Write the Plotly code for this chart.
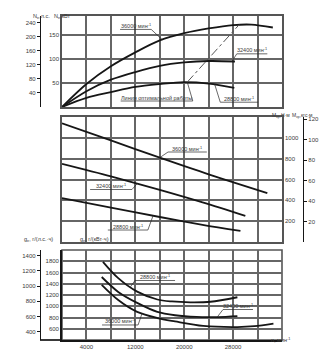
import numpy as np
import plotly.graph_objects as go

# Engine speed n, min^-1, and effective power Ne, kW, for three governor settings
n_ne_36000 = [0, 4000, 8000, 12000, 16000, 20000, 24000, 28000, 31000, 34500]
ne_36000 = [0, 48, 85, 114, 139, 154, 164, 171, 172, 166]
n_ne_32400 = [0, 4000, 8000, 12000, 16000, 20000, 24000, 28300]
ne_32400 = [0, 33, 57, 73, 86, 93, 96, 95]
n_ne_28800 = [0, 4000, 8000, 12000, 16000, 20000, 24000, 28200]
ne_28800 = [0, 19, 31, 42, 48, 52, 49, 40]
# line of optimum operation
n_opt = [20500, 29000]
ne_opt = [52, 172]

# Torque M, N·m
n_m_36000 = [0, 8000, 16000, 24000, 33600]
m_36000 = [1140, 975, 810, 650, 470]
n_m_32400 = [0, 8000, 16000, 23000, 30000]
m_32400 = [750, 630, 500, 380, 250]
n_m_28800 = [0, 8000, 16000, 23000, 29200]
m_28800 = [422, 330, 240, 165, 106]

# Specific fuel consumption ge, g/(kW·h)
n_ge_28800 = [6700, 9200, 12300, 15600, 18000, 21000, 24300, 28700]
ge_28800 = [1790, 1500, 1260, 1120, 1085, 1070, 1080, 1160]
n_ge_32400 = [6500, 9200, 12300, 15600, 18500, 22000, 25500, 28700]
ge_32400 = [1520, 1255, 1060, 900, 840, 810, 808, 825]
n_ge_36000 = [6500, 9200, 12300, 15600, 18500, 23100, 28700, 31500, 34600]
ge_36000 = [1380, 1110, 900, 790, 730, 650, 630, 645, 690]

# axis ticks
n_ticks = list(range(0, 36001, 4000))
n_labels = ["", "4000", "", "12000", "", "20000", "", "28000", "", ""]
ne_kw_ticks = [0, 50, 100, 150]
ne_hp_ticks = [40, 80, 120, 160, 200, 240]
m_nm_ticks = [0, 200, 400, 600, 800, 1000]
m_kgf_ticks = [20, 40, 60, 80, 100, 120]
ge_kw_ticks = [400, 600, 800, 1000, 1200, 1400, 1600, 1800]
ge_hp_ticks = [400, 600, 800, 1000, 1200, 1400]

HP_PER_KW = 1.36
NM_PER_KGFM = 9.81
N_MAX = 36000
NE_MAX = 190
M_MAX = 1200
GE_RANGE = [400, 2000]

W, H = 330, 352


def px(x):
    return x / W


def py(y):
    return 1 - y / H


FONT = "Liberation Sans, Arial, sans-serif"
TXT = "#3a3a3a"
GRID = "#666666"
FRAME = "#555555"
INK = "#161616"

x_dom = [px(62), px(282)]
dom1 = [py(107), py(16)]
dom2 = [py(242), py(117)]
dom3 = [py(340), py(250)]

fig = go.Figure()


def curve(xs, ys, xa, ya, dash="solid", width=1.8, color=INK):
    fig.add_trace(go.Scatter(
        x=xs, y=ys, xaxis=xa, yaxis=ya, mode="lines",
        line=dict(color=color, width=width, dash=dash, shape="spline", smoothing=0.9),
        hoverinfo="skip", showlegend=False))


curve(n_ne_36000, ne_36000, "x", "y")
curve(n_ne_32400, ne_32400, "x", "y")
curve(n_ne_28800, ne_28800, "x", "y")
curve(n_opt, ne_opt, "x", "y", dash="dashdot", width=1.0, color="#555555")

curve(n_m_36000, m_36000, "x2", "y2")
curve(n_m_32400, m_32400, "x2", "y2")
curve(n_m_28800, m_28800, "x2", "y2")

curve(n_ge_28800, ge_28800, "x3", "y3")
curve(n_ge_32400, ge_32400, "x3", "y3")
curve(n_ge_36000, ge_36000, "x3", "y3")

# empty traces so the secondary unit scales are laid out, each with its own panel's x axis
for xa, ya in (("x", "y4"), ("x2", "y5"), ("x3", "y6")):
    fig.add_trace(go.Scatter(x=[None], y=[None], xaxis=xa, yaxis=ya,
                             showlegend=False, hoverinfo="skip"))

SPEED = "мин<sup>-1</sup>"


def curve_label(xa, ya, text, ux0, ux1, uy, side, tx, cx, cy):
    """Text over an underline; a leader runs from one end of the underline to the curve."""
    ty = float(np.interp(tx, cx, cy))
    if side == "left":
        xs, ys = [ux1, ux0, tx], [uy, uy, ty]
    else:
        xs, ys = [ux0, ux1, tx], [uy, uy, ty]
    fig.add_trace(go.Scatter(x=xs, y=ys, xaxis=xa, yaxis=ya, mode="lines",
                             line=dict(color="#2a2a2a", width=0.7),
                             hoverinfo="skip", showlegend=False))
    fig.add_annotation(x=(ux0 + ux1) / 2, y=uy, xref=xa, yref=ya, text=text,
                       showarrow=False, yanchor="bottom", yshift=-1.5,
                       font=dict(family=FONT, size=5.5, color=TXT))


# power panel
curve_label("x", "y", "36000 " + SPEED, 9500, 14600, 162, "right", 16400, n_ne_36000, ne_36000)
curve_label("x", "y", "32400 " + SPEED, 28600, 33600, 111, "left", 27800, n_ne_32400, ne_32400)
curve_label("x", "y", "28800 " + SPEED, 25900, 32100, 10, "left", 25000, n_ne_28800, ne_28800)
curve_label("x", "y", "Линия оптимальной работы", 9600, 21400, 12.5, "right", 20500, n_opt, ne_opt)
# torque panel
curve_label("x2", "y2", "36000 " + SPEED, 17350, 23700, 864, "left", 16000, n_m_36000, m_36000)
curve_label("x2", "y2", "32400 " + SPEED, 4600, 11450, 504, "right", 12300, n_m_32400, m_32400)
curve_label("x2", "y2", "28800 " + SPEED, 7500, 14050, 115, "right", 14900, n_m_28800, m_28800)
# fuel consumption panel
curve_label("x3", "y3", "28800 " + SPEED, 11950, 18500, 1458, "left", 11200, n_ge_28800, ge_28800)
curve_label("x3", "y3", "36000 " + SPEED, 6550, 12450, 667, "right", 13100, n_ge_36000, ge_36000)
curve_label("x3", "y3", "32400 " + SPEED, 26350, 31250, 942, "left", 25400, n_ge_32400, ge_32400)

tickfont = dict(family=FONT, size=6, color=TXT)

xbase = dict(domain=x_dom, range=[0, N_MAX], tickmode="array", tickvals=n_ticks,
             showgrid=True, gridcolor=GRID, gridwidth=1.5, zeroline=False,
             showline=True, mirror=True, linecolor=FRAME, linewidth=1.6, ticks="",
             tickfont=tickfont)
ybase = dict(showgrid=True, gridcolor=GRID, gridwidth=1.5, zeroline=False,
             showline=True, mirror=True, linecolor=FRAME, linewidth=1.6, ticks="",
             tickfont=tickfont, tickmode="array")
outer = dict(anchor="free", showgrid=False, zeroline=False, showline=True,
             linecolor=INK, linewidth=1.3, ticks="outside", ticklen=3, tickwidth=1,
             tickcolor=INK, tickfont=tickfont, tickmode="array")

fig.update_layout(
    width=W, height=H, margin=dict(l=0, r=0, t=0, b=0),
    paper_bgcolor="white", plot_bgcolor="rgba(0,0,0,0)",
    font=dict(family=FONT, size=6, color=TXT),
    xaxis=dict(xbase, anchor="y", showticklabels=False),
    xaxis2=dict(xbase, anchor="y2", showticklabels=False),
    xaxis3=dict(xbase, anchor="y3", ticktext=n_labels, mirror=False,
                linecolor=INK, linewidth=1.7),
    yaxis=dict(ybase, domain=dom1, anchor="x", range=[0, NE_MAX],
               tickvals=ne_kw_ticks, ticktext=[""] + [str(v) for v in ne_kw_ticks[1:]]),
    yaxis2=dict(ybase, domain=dom2, anchor="x2", side="right", range=[0, M_MAX],
                tickvals=m_nm_ticks, ticktext=[""] + [str(v) for v in m_nm_ticks[1:]]),
    yaxis3=dict(ybase, domain=dom3, anchor="x3", range=GE_RANGE, mirror=False,
                linecolor=INK, linewidth=1.7,
                tickvals=ge_kw_ticks, ticktext=[""] + [str(v) for v in ge_kw_ticks[1:]]),
    yaxis4=dict(outer, overlaying="y", position=px(40), side="left",
                range=[0, NE_MAX * HP_PER_KW], tickvals=ne_hp_ticks),
    yaxis5=dict(outer, overlaying="y2", position=px(303), side="right",
                range=[0, M_MAX / NM_PER_KGFM], tickvals=m_kgf_ticks),
    yaxis6=dict(outer, overlaying="y3", position=px(40), side="left",
                range=[GE_RANGE[0] / HP_PER_KW, GE_RANGE[1] / HP_PER_KW],
                tickvals=ge_hp_ticks),
)

# frame on the open sides of the lower panel, and the base line under both scales
fig.add_shape(type="rect", xref="x3 domain", yref="y3 domain", x0=0, x1=1, y0=0, y1=1,
              line=dict(color=FRAME, width=1.6), layer="below")
fig.add_shape(type="line", xref="paper", yref="paper", x0=px(40), x1=px(62),
              y0=dom3[0], y1=dom3[0], line=dict(color=INK, width=1.7))

titles = [
    ("N<sub>e</sub>,л.с.", 31, 11, 5.5),
    ("N<sub>e</sub>,кВт", 52, 11, 5.5),
    ("M<sub>кр</sub>,Н·м", 292, 110, 5),
    ("M<sub>кр</sub>,кгс·м", 315, 110, 5),
    ("g<sub>e</sub>, г/(л.с.·ч)", 22, 245, 5.5),
    ("g<sub>e</sub>, г/(кВт·ч)", 78, 245, 5.5),
    ("n, мин<sup>-1</sup>", 292, 345, 5.5),
]
for text, tx, ty, fs in titles:
    fig.add_annotation(x=px(tx), y=py(ty), xref="paper", yref="paper", text=text,
                       showarrow=False, font=dict(family=FONT, size=fs, color=TXT))

fig.write_html("out.html")
